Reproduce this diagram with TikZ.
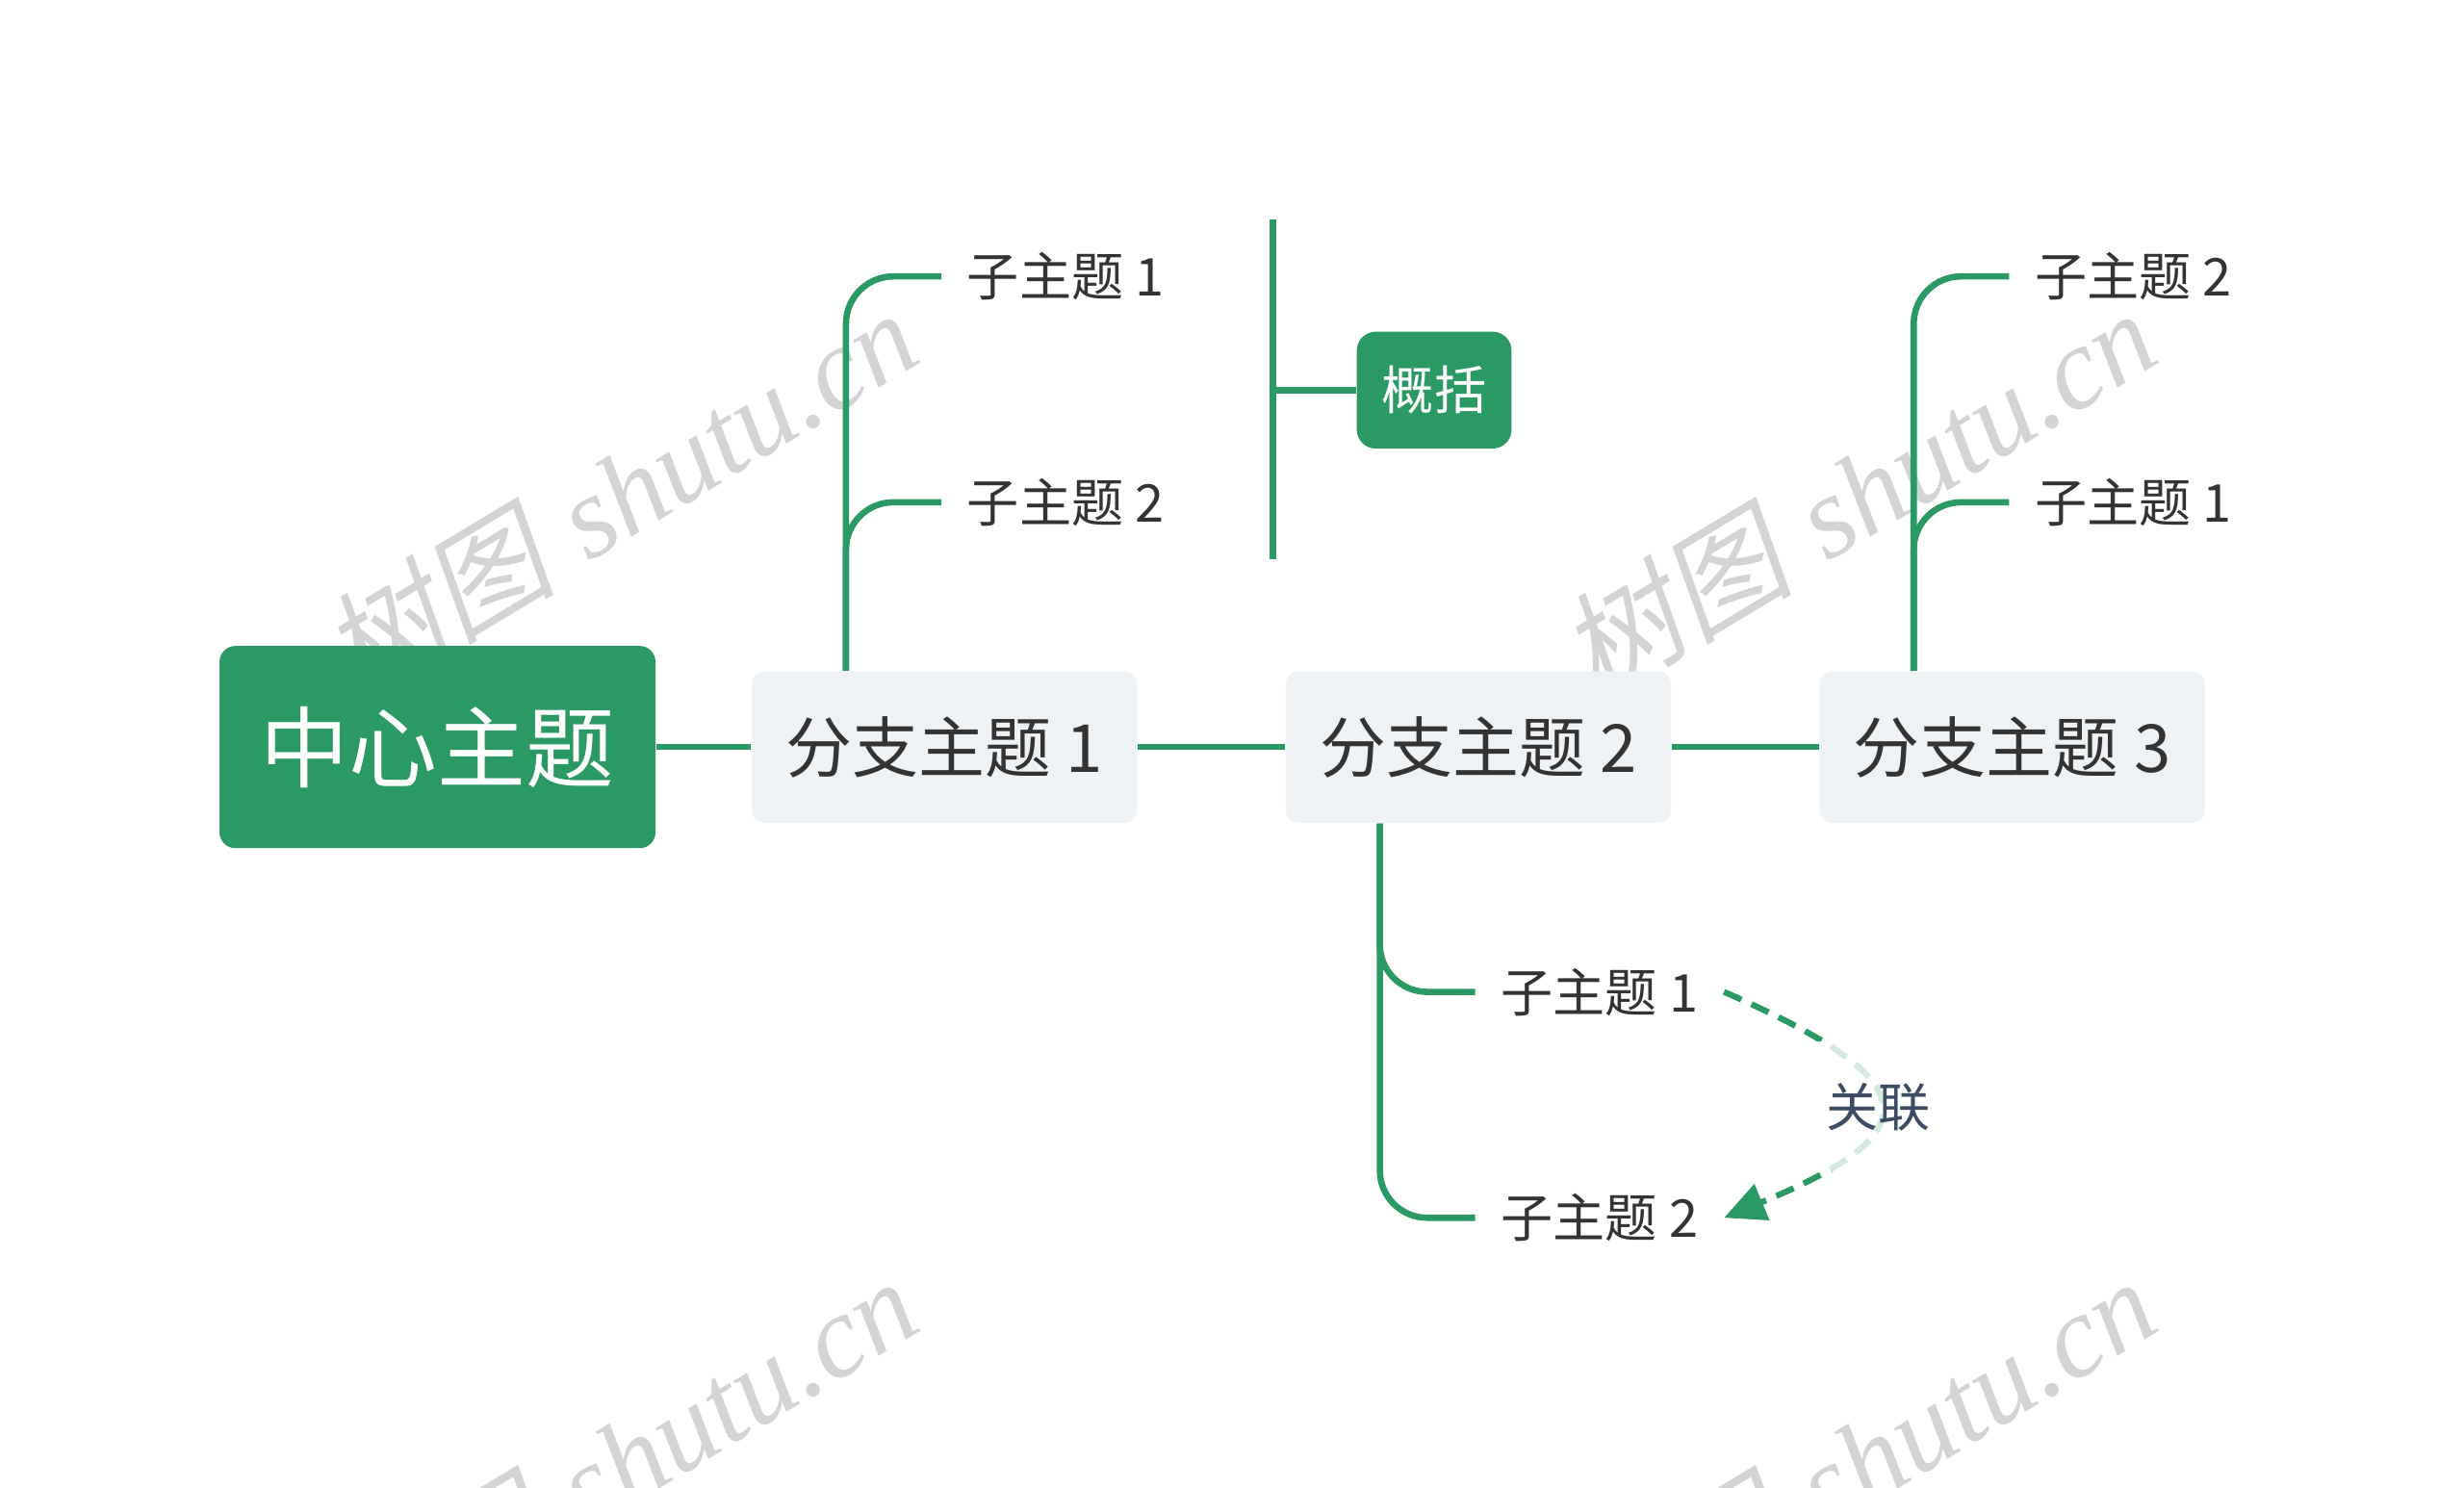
\documentclass[tikz,border=0pt]{standalone}
\usepackage{fontspec}
\usepackage{xcolor}
\usepackage{tikz}
\usetikzlibrary{arrows.meta}
\newfontfamily\cjk{Noto Sans CJK SC}
\newfontfamily\wmcjk[FakeSlant=0.2]{Noto Sans CJK SC}
\newfontfamily\wmfont{Liberation Serif}
\definecolor{mapgreen}{HTML}{2A9964}
\definecolor{branchfill}{HTML}{EEF2F5}
\definecolor{topictext}{HTML}{333333}
\definecolor{reltext}{HTML}{3D4B63}
\definecolor{wmgray}{HTML}{D4D4D4}

\begin{document}
\begin{tikzpicture}[x=0.5pt,y=0.5pt,yscale=-1,xscale=1,
  centerbox/.style={draw=none,fill=mapgreen,rounded corners=5pt,minimum width=138pt,minimum height=64pt,inner sep=0pt,text=white,font=\cjk\fontsize{28}{30}\selectfont},
  branchbox/.style={draw=none,fill=branchfill,rounded corners=4pt,minimum width=122pt,minimum height=48pt,inner sep=0pt,text=topictext,font=\cjk\fontsize{21}{24}\selectfont},
  subtopic/.style={anchor=west,inner xsep=8pt,inner ysep=2pt,text=topictext,font=\cjk\fontsize{16.5}{19}\selectfont},
  summarybox/.style={draw=none,fill=mapgreen,rounded corners=6pt,minimum width=49pt,minimum height=37pt,inner sep=0pt,text=white,font=\cjk\fontsize{16.5}{19}\selectfont},
  link/.style={draw=mapgreen,line width=2pt},
  elbow/.style={link,rounded corners=15pt},
  relation/.style={draw=mapgreen,line width=1.9pt,dash pattern={on 6pt off 3.5pt},-{Triangle[length=13pt,width=12pt]}},
  rellabel/.style={fill=white,fill opacity=0.8,text opacity=1,text=reltext,inner xsep=3pt,inner ysep=13pt,font=\cjk\fontsize{16.5}{19}\selectfont},
  watermark/.style={text=wmgray,rotate=31,inner sep=0pt,font=\fontsize{37}{40}\selectfont}
]
\useasboundingbox (0,0) rectangle (1560,942);

% Watermarks
\node[watermark] (wm1) at (392,312) {{\wmcjk 树图} {\wmfont\itshape shutu.cn}};
\node[watermark] (wm2) at (1176,312) {{\wmcjk 树图} {\wmfont\itshape shutu.cn}};
\node[watermark] (wm3) at (392,925) {{\wmcjk 树图} {\wmfont\itshape shutu.cn}};
\node[watermark] (wm4) at (1176,925) {{\wmcjk 树图} {\wmfont\itshape shutu.cn}};

% Topic Nodes
\node[centerbox] (center) at (277,473) {中心主题};
\node[branchbox] (b1) at (598,473) {分支主题 1};
\node[branchbox] (b2) at (936,473) {分支主题 2};
\node[branchbox] (b3) at (1274,473) {分支主题 3};

% Subtopic Nodes
\node[subtopic] (s11) at (596,175) {子主题 1};
\node[subtopic] (s12) at (596,318) {子主题 2};
\node[subtopic] (s21) at (934,628) {子主题 1};
\node[subtopic] (s22) at (934,771) {子主题 2};
\node[subtopic] (s31) at (1272,175) {子主题 2};
\node[subtopic] (s32) at (1272,318) {子主题 1};

% Summary
\node[summarybox] (summary) at (908,247) {概括};
\coordinate (brtop) at (806,139);
\coordinate (brbot) at (806,354);

% Straight Lines
\draw[link] (center.east) -- (b1.west);
\draw[link] (b1.east) -- (b2.west);
\draw[link] (b2.east) -- (b3.west);

% Elbow Lines
\draw[elbow] ([xshift=30pt]b1.north west) |- (s11.west);
\draw[elbow] ([xshift=30pt]b1.north west) |- (s12.west);
\draw[elbow] ([xshift=30pt]b2.south west) |- (s21.west);
\draw[elbow] ([xshift=30pt]b2.south west) |- (s22.west);
\draw[elbow] ([xshift=30pt]b3.north west) |- (s31.west);
\draw[elbow] ([xshift=30pt]b3.north west) |- (s32.west);

% Summary bracket
\draw[link] (brtop) -- (brbot);
\draw[link] (brtop |- summary.west) -- (summary.west);

% Relation
\draw[relation] (s21.east) .. controls (1222,685) and (1222,717) .. node[rellabel,pos=0.5] (rel) {关联} (s22.east);

\end{tikzpicture}
\end{document}
